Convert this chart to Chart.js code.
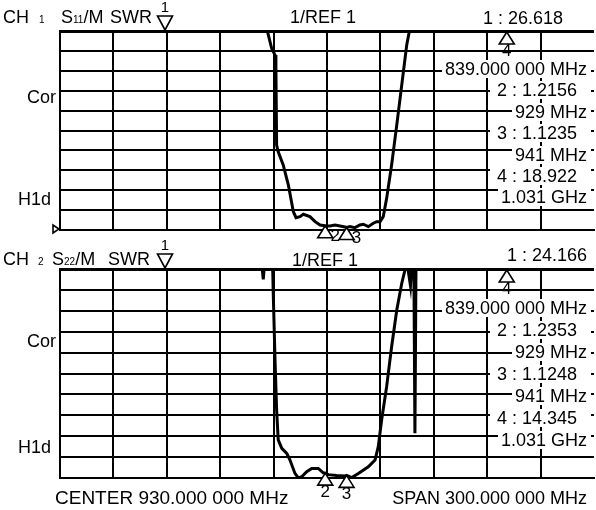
<!DOCTYPE html>
<html>
  <head>
    <title>S11 / S22 SWR</title>
    <script src="https://cdn.jsdelivr.net/npm/chart.js"></script>
    <style>
      body {
        margin: 0;
        background: #fff;
      }
      #wrap {
        position: relative;
        width: 596px;
        height: 510px;
        overflow: hidden;
      }
      canvas {
        position: absolute;
        left: 0;
      }
      .t {
        position: absolute;
        font: 18px/18px "Liberation Sans", Arial, sans-serif;
        color: #000;
        white-space: nowrap;
      }
      .t small {
        font-size: 10px;
      }
      .box {
        background: #fff;
        right: 5px;
        height: 18px;
        text-align: right;
      }
      .big {
        font-size: 19px;
      }
    </style>
  </head>
  <body>
    <div id="wrap">
      <canvas id="ch1" width="596" height="250" style="top: 0px"></canvas>
      <canvas id="ch2" width="596" height="274" style="top: 236px"></canvas>

      <!-- CH1 header -->
      <div class="t" style="left: 3px; top: 8px">CH<small style="margin-left: 10px">1</small></div>
      <div class="t" style="left: 61px; top: 8px">S<small>11</small>/M</div>
      <div class="t" style="left: 110px; top: 8px">SWR</div>
      <div class="t" style="left: 290px; top: 8px">1/REF 1</div>
      <div class="t" id="ref1" style="left: 483px; top: 9px"></div>
      <div class="t" style="left: 27px; top: 88px">Cor</div>
      <div class="t" style="left: 18px; top: 190px">H1d</div>

      <!-- CH2 header -->
      <div class="t" style="left: 3px; top: 250px">CH<small style="margin-left: 9px">2</small></div>
      <div class="t" style="left: 52px; top: 250px">S<small>22</small>/M</div>
      <div class="t" style="left: 108px; top: 250px">SWR</div>
      <div class="t" style="left: 292px; top: 251px">1/REF 1</div>
      <div class="t" id="ref2" style="right: 9px; top: 246px"></div>
      <div class="t" style="left: 27px; top: 332px">Cor</div>
      <div class="t" style="left: 18px; top: 438px">H1d</div>

      <div class="t big" style="left: 55px; top: 489px">CENTER 930.000 000 MHz</div>
      <div class="t" style="right: 9px; top: 489px">SPAN 300.000 000 MHz</div>
    </div>

    <script>
      // sweep: center 930 MHz, span 300 MHz
      const fStart = 780;
      const fStop = 1080;

      // CH1 S11 SWR trace (MHz, SWR)
      const freqs1 = [780, 839, 880, 893, 896.5, 898.9, 900.8, 901.3, 901.7, 902.6, 905.4, 908.3, 911.1, 912.6,
        914.8, 916.7, 920.4, 923.3, 926.1, 929, 931.7, 934.5, 937.3, 940.1, 941, 942.9, 945.7, 948.5, 950.4,
        953.2, 956, 957.9, 959.8, 961.6, 963.5, 966.3, 969.2, 972, 974.8, 976.2, 980, 1000, 1031, 1080];
      const swr1 = [28, 26.618, 24, 16, 11.0, 10.13, 9.79, 9.14, 5.27, 4.93, 4.27, 3.26, 1.92, 1.62,
        1.67, 1.79, 1.67, 1.42, 1.25, 1.2156, 1.2, 1.25, 1.2, 1.15, 1.1235, 1.17, 1.12, 1.25, 1.29,
        1.17, 1.34, 1.42, 1.42, 1.67, 2.59, 4.27, 6.28, 8.29, 10.3, 10.96, 14, 17, 18.922, 21];

      // CH2 S22 SWR trace
      const freqs2 = [780, 839, 880, 892.6, 894.2, 895.4, 898, 899.5, 899.8, 900.8, 901.7, 902.6, 904.6, 907.4,
        909.2, 912, 913.9, 915.8, 918.6, 921.4, 925.1, 927.9, 929, 930.7, 935.4, 940.1, 941, 943.9, 947.6,
        953.2, 957, 958.8, 960.7, 963.5, 966.3, 969.2, 972, 973.8, 974.8, 976.9, 977.8, 978.8, 979.4, 980,
        990, 1031, 1080];
      const swr2 = [26, 24.166, 18, 11.8, 10.5, 11.8, 14, 10.95, 9.84, 6.65, 4.25, 2.82, 2.42, 2.18,
        1.86, 1.22, 1.0, 1.06, 1.3, 1.46, 1.46, 1.25, 1.2353, 1.16, 1.12, 1.1, 1.1248, 1.02, 1.22,
        1.54, 1.86, 2.5, 3.78, 5.37, 7.28, 9.04, 10.32, 10.95, 11.4, 10.2, 11.4, 11.2, 3.14, 11.2,
        15, 14.345, 20];

      // markers 1..4
      const markerNames = ["1", "2", "3", "4"];
      const markerFreqs = [839, 929, 941, 1031];
      const markerVals1 = [26.618, 1.2156, 1.1235, 18.922];
      const markerVals2 = [24.166, 1.2353, 1.1248, 14.345];

      const FONT = '"Liberation Sans", Arial, sans-serif';

      function fmtFreq(f, full) {
        if (full) {
          const s = f.toFixed(6);
          return s.slice(0, -3) + " " + s.slice(-3) + " MHz";
        }
        return f >= 1000 ? (f / 1000).toFixed(3) + " GHz" : f + " MHz";
      }

      function readouts(vals, refId, y0, step) {
        document.getElementById(refId).textContent = markerNames[0] + " : " + vals[0];
        const rows = [{ txt: fmtFreq(markerFreqs[0], true), freq: true }];
        for (let i = 1; i < markerFreqs.length; i++) {
          rows.push({ txt: markerNames[i] + " : " + vals[i], freq: false });
          rows.push({ txt: fmtFreq(markerFreqs[i], false), freq: true });
        }
        const wrap = document.getElementById("wrap");
        rows.forEach((r, k) => {
          const d = document.createElement("div");
          d.className = "t box";
          d.textContent = r.txt;
          d.style.top = Math.round(y0 + k * step - 9) + "px";
          d.style.paddingRight = r.freq ? "4px" : "14px";
          d.style.paddingLeft = r.freq ? "3px" : "7px";
          wrap.appendChild(d);
        });
      }

      function tri(ctx, x, yApex, yBase) {
        ctx.beginPath();
        ctx.moveTo(x, yApex);
        ctx.lineTo(x - 7.5, yBase);
        ctx.lineTo(x + 7.5, yBase);
        ctx.closePath();
        ctx.fill();
        ctx.stroke();
      }

      const markerPlugin = {
        id: "markers",
        afterDraw(chart, args, opts) {
          const { ctx, chartArea: a } = chart;
          const xs = chart.scales.x, ys = chart.scales.y;
          ctx.save();
          ctx.strokeStyle = "#000";
          ctx.lineWidth = 1.6;
          ctx.textAlign = "center";
          ctx.textBaseline = "middle";
          markerFreqs.forEach((f, i) => {
            const px = xs.getPixelForValue(f);
            if (i === 0) {
              // reference marker sits above the grid, pointing down
              ctx.fillStyle = "#fff";
              tri(ctx, px, a.top - 1, a.top - 15);
              ctx.fillStyle = "#000";
              ctx.font = "15px " + FONT;
              ctx.fillText(markerNames[i], px, a.top - 23);
              return;
            }
            let py = ys.getPixelForValue(opts.vals[i]);
            py = Math.max(a.top + 1, Math.min(a.bottom, py));
            ctx.fillStyle = "#fff";
            tri(ctx, px, py, py + 12);
            ctx.fillStyle = "#000";
            ctx.font = "17px " + FONT;
            if (opts.side && py > a.top + 5) {
              ctx.fillText(markerNames[i], px + 10, py + 11);
            } else {
              ctx.fillText(markerNames[i], px, py + 19);
            }
          });
          if (opts.refArrow) {
            const yb = ys.getPixelForValue(1);
            ctx.fillStyle = "#fff";
            ctx.beginPath();
            ctx.moveTo(a.left - 7, yb - 5);
            ctx.lineTo(a.left - 7, yb + 3);
            ctx.lineTo(a.left - 1, yb - 1);
            ctx.closePath();
            ctx.fill();
            ctx.stroke();
          }
          ctx.restore();
        },
      };

      function makeChart(id, freqs, swr, vals, padding, extra) {
        return new Chart(document.getElementById(id), {
          type: "line",
          data: {
            datasets: [
              {
                data: freqs.map((f, i) => ({ x: f, y: swr[i] })),
                borderColor: "#000",
                borderWidth: 3,
                pointRadius: 0,
                tension: 0,
              },
            ],
          },
          options: {
            responsive: false,
            animation: false,
            events: [],
            layout: { padding: padding },
            plugins: {
              legend: { display: false },
              tooltip: { enabled: false },
              markers: Object.assign({ vals: vals }, extra),
            },
            scales: {
              x: {
                type: "linear",
                min: fStart,
                max: fStop,
                ticks: { display: false, stepSize: 30 },
                grid: {
                  drawTicks: false,
                  lineWidth: 2,
                  color: (c) => (c.tick && c.tick.value === fStop ? "rgba(0,0,0,0)" : "#000"),
                },
                border: { display: true, color: "#000", width: 2 },
              },
              y: {
                min: 1,
                max: 11,
                ticks: { display: false, stepSize: 1 },
                grid: {
                  drawTicks: false,
                  color: "#000",
                  lineWidth: (c) => (c.tick && c.tick.value === 11 ? 3 : 2),
                },
                border: { display: true, color: "#000", width: 2 },
              },
            },
          },
          plugins: [markerPlugin],
        });
      }

      makeChart("ch1", freqs1, swr1, markerVals1, { left: 60, right: 2, top: 31, bottom: 20 }, { side: true, refArrow: true });
      makeChart("ch2", freqs2, swr2, markerVals2, { left: 60, right: 2, top: 33, bottom: 32 }, { side: false, refArrow: false });

      readouts(markerVals1, "ref1", 69, 21.4);
      readouts(markerVals2, "ref2", 308, 22);
    </script>
  </body>
</html>
